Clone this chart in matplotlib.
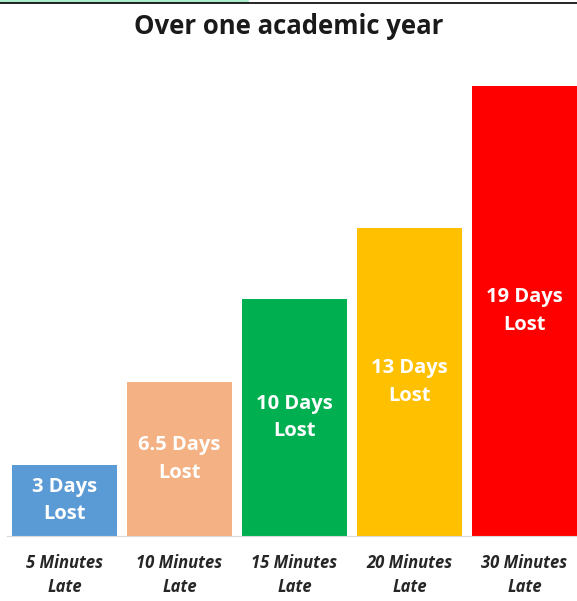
import matplotlib.pyplot as plt
from matplotlib.lines import Line2D

# data
categories = ["5 Minutes\nLate", "10 Minutes\nLate", "15 Minutes\nLate",
              "20 Minutes\nLate", "30 Minutes\nLate"]
days_lost = [3, 6.5, 10, 13, 19]
bar_labels = ["3 Days\nLost", "6.5 Days\nLost", "10 Days\nLost",
              "13 Days\nLost", "19 Days\nLost"]
colors = ["#5B9BD5", "#F4B183", "#00B050", "#FFC000", "#FF0000"]

plt.rcParams['font.family'] = ['Open Sans', 'DejaVu Sans']

W, H = 577, 601
fig = plt.figure(figsize=(W / 100, H / 100), dpi=100)
ax = fig.add_axes([7 / W, 65 / H, 575 / W, 474 / H])

x = range(len(days_lost))
bars = ax.bar(x, days_lost, width=0.91, color=colors)
ax.bar_label(bars, labels=bar_labels, label_type='center', color='white',
             fontsize=14.5, fontweight='bold', linespacing=1.5)

ax.set_xlim(-0.5, 4.5)
ax.set_ylim(0, 20)
ax.set_xticks(list(x))
ax.set_xticklabels(categories, fontsize=12, fontweight='bold',
                   fontstyle='italic', color='#262626', linespacing=1.45)
ax.tick_params(axis='x', length=0, pad=13)
ax.set_yticks([])
for s in ['top', 'right', 'left']:
    ax.spines[s].set_visible(False)
ax.spines['bottom'].set_color('#D9D9D9')

fig.text(0.5, 1 - 26 / H, "Over one academic year", ha='center', va='center',
         fontsize=18.5, fontweight='bold', color='#1a1a1a')

# top edge strips
fig.add_artist(Line2D([0, 247 / W], [1 - 1 / H, 1 - 1 / H], color='#A8EBCB', lw=2))
fig.add_artist(Line2D([0, 1], [1 - 3 / H, 1 - 3 / H], color='black', lw=1.2))

fig.savefig("out.png", dpi=100)
